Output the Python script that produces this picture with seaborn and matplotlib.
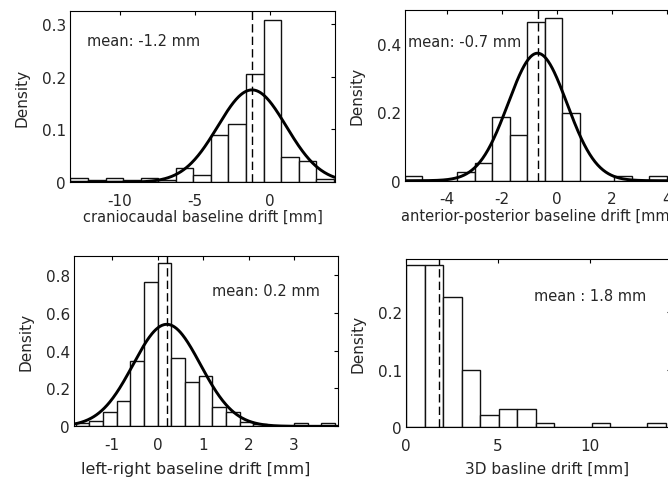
import numpy as np
import pandas as pd
import seaborn as sns
from matplotlib import pyplot as plt

# craniocaudal drift histogram (density per bin)
cc_range = (-13.3, 4.25)
cc_density = [0.008, 0.005, 0.008, 0.005, 0.008, 0.004, 0.027, 0.013,
              0.089, 0.110, 0.205, 0.308, 0.048, 0.040, 0.007]
cc_mean, cc_sd = -1.2, 2.28

# anterior-posterior drift
ap_range = (-5.52, 4.0)
ap_density = [0.013, 0.0, 0.0, 0.026, 0.052, 0.187, 0.135, 0.465,
              0.476, 0.199, 0.0, 0.0, 0.013, 0.0, 0.013]
ap_mean, ap_sd = -0.7, 1.07

# left-right drift
lr_range = (-1.8, 3.9)
lr_density = [0.02, 0.028, 0.074, 0.134, 0.343, 0.761, 0.862, 0.363, 0.234,
              0.264, 0.104, 0.074, 0.022, 0.01, 0.0, 0.0, 0.018, 0.0, 0.02]
lr_mean, lr_sd = 0.2, 0.74

# 3D drift
d3_range = (0.0, 14.1)
d3_density = [0.282, 0.282, 0.226, 0.100, 0.022, 0.032, 0.032, 0.0075,
              0.0, 0.0, 0.0075, 0.0, 0.0, 0.0075]
d3_mean = 1.8

sns.set_style('white')
plt.rcParams['font.family'] = ['DejaVu Sans']
plt.rcParams['font.size'] = 10.5

fig = plt.figure(figsize=(6.68, 4.81), dpi=100)
txt = '#262626'


def drift_panel(rect, rng, dens, mean, sd, xlim, ylim, xticks, yticks,
                xlabel, label, label_xy, xlabelsize=10.5, xlabel_pos=None):
    ax = fig.add_axes(rect)
    edges = np.linspace(rng[0], rng[1], len(dens) + 1)
    centers = (edges[:-1] + edges[1:]) / 2
    df = pd.DataFrame({'x': centers, 'w': dens})
    sns.histplot(data=df, x='x', weights='w', bins=edges.tolist(),
                 stat='count', color='white', edgecolor='#111111',
                 linewidth=1.0, alpha=1, ax=ax)
    if sd is not None:
        xs = np.linspace(xlim[0], xlim[1], 400)
        ys = np.exp(-0.5 * ((xs - mean) / sd) ** 2) / (sd * np.sqrt(2 * np.pi))
        sns.lineplot(x=xs, y=ys, color='black', linewidth=2.1, ax=ax)
    ax.axvline(mean, color='black', linewidth=1.0, linestyle=(0, (6, 3)))
    ax.text(label_xy[0], label_xy[1], label, ha='left', va='center',
            fontsize=10.5, color=txt)
    ax.set_xlim(*xlim)
    ax.set_ylim(*ylim)
    ax.set_xticks(xticks)
    ax.set_yticks(yticks)
    ax.set_xticklabels([f'{t:g}' for t in xticks])
    ax.set_yticklabels([f'{t:g}' for t in yticks])
    ax.tick_params(direction='in', length=3, width=0.8, top=True, right=True,
                   colors='black', labelcolor=txt, labelsize=11)
    ax.tick_params(axis='x', pad=7.5)
    ax.tick_params(axis='y', pad=3)
    for s in ax.spines.values():
        s.set_color('black')
        s.set_linewidth(0.8)
    ax.set_xlabel(xlabel, color=txt, labelpad=1, fontsize=xlabelsize)
    if xlabel_pos is not None:
        ax.xaxis.set_label_coords(*xlabel_pos)
    ax.set_ylabel('Density', color=txt, labelpad=9, fontsize=11)
    return ax


drift_panel([0.1048, 0.619, 0.3967, 0.3567], cc_range, cc_density, cc_mean, cc_sd,
            (-13.33, 4.33), (0, 0.325), [-10, -5, 0], [0, 0.1, 0.2, 0.3],
            'craniocaudal baseline drift [mm]', 'mean: -1.2 mm', (-12.2, 0.268))

drift_panel([0.6063, 0.6222, 0.3997, 0.3555], ap_range, ap_density, ap_mean, ap_sd,
            (-5.52, 4.19), (0, 0.5), [-4, -2, 0, 2, 4], [0, 0.2, 0.4],
            'anterior-posterior baseline drift [mm]', 'mean: -0.7 mm', (-5.4, 0.407))

drift_panel([0.1108, 0.1116, 0.3948, 0.354], lr_range, lr_density, lr_mean, lr_sd,
            (-1.84, 3.96), (0, 0.9), [-1, 0, 1, 2, 3], [0, 0.2, 0.4, 0.6, 0.8],
            'left-right baseline drift [mm]', 'mean: 0.2 mm', (1.19, 0.717),
            xlabelsize=11.5, xlabel_pos=(0.461, -0.205))

drift_panel([0.6078, 0.1096, 0.3967, 0.35], d3_range, d3_density, d3_mean, None,
            (0, 14.38), (0, 0.293), [0, 5, 10], [0, 0.1, 0.2],
            '3D basline drift [mm]', 'mean : 1.8 mm', (6.92, 0.230),
            xlabelsize=11, xlabel_pos=(0.532, -0.2))

fig.savefig('out.png', dpi=100)
